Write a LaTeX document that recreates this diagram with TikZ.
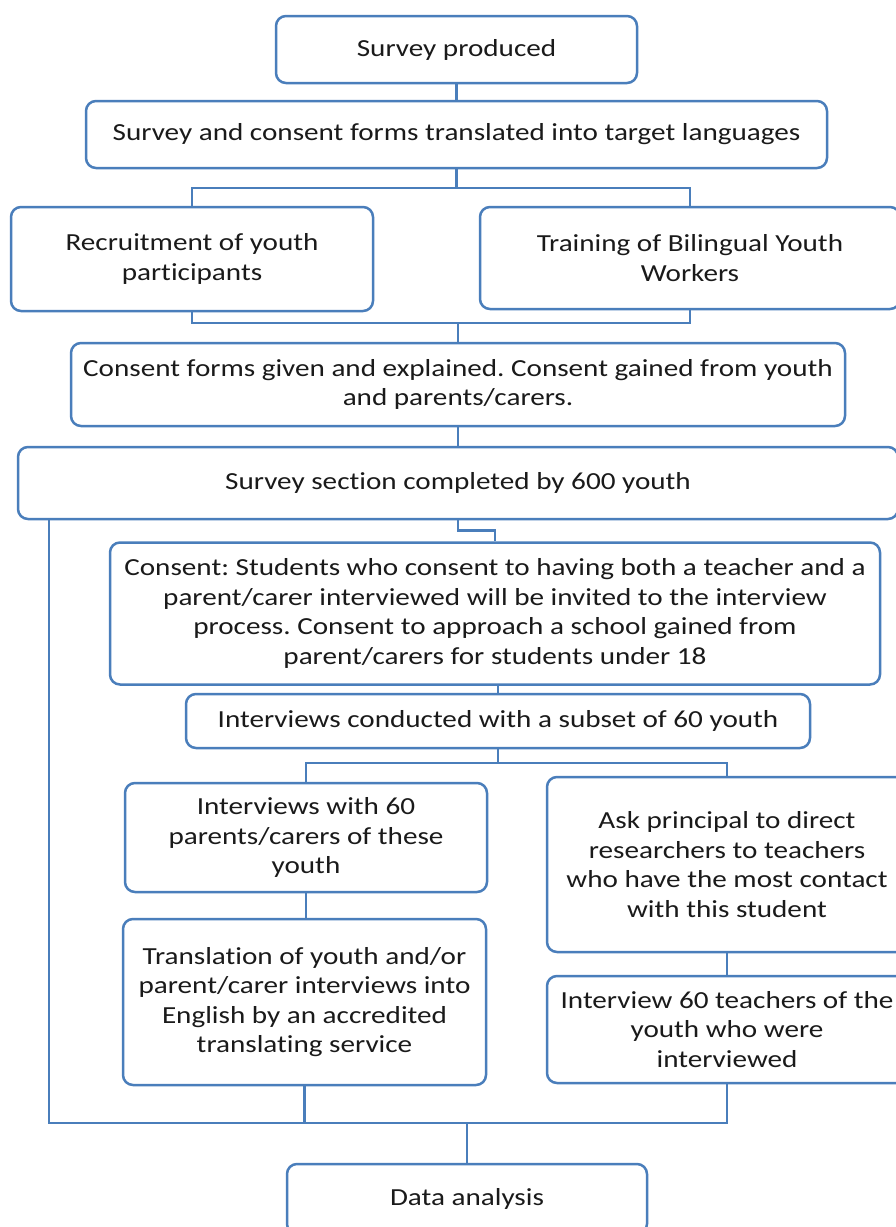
\documentclass[tikz,border=0pt]{standalone}
\usepackage{fontspec}
\setmainfont{Carlito}[FakeStretch=1.19, Ligatures=NoCommon]
\definecolor{boxblue}{HTML}{4A7EBB}
\definecolor{txt}{HTML}{1A1A1A}
\frenchspacing
\begin{document}
\begin{tikzpicture}[x=1pt,y=1pt,
  fbox/.style={draw=boxblue, line width=2.5pt, rounded corners=10pt, align=center,
    inner sep=0pt, text=txt, font=\fontsize{24.5}{29.5}\selectfont},
  conn/.style={draw=boxblue, line width=2.5pt}]
\useasboundingbox (0,0) rectangle (896,-1227);
\clip (0,0) rectangle (896,-1227);
\fill[white] (0,0) rectangle (896,-1227);
% boxes: center, width, height
\node[fbox, minimum width=361, minimum height=67] (produced) at (456.5,-49.5) {Survey produced};
\node[fbox, minimum width=741, minimum height=67] (translated) at (456.5,-134.5) {Survey and consent forms translated into target languages};
\node[fbox, minimum width=362, minimum height=104] (recruit) at (192,-259) {Recruitment of youth\\participants};
\node[fbox, minimum width=420, minimum height=102] (training) at (690,-258) {Training of Bilingual Youth\\Workers};
\node[fbox, minimum width=774, minimum height=83] (consentforms) at (458,-384.5) {Consent forms given and explained. Consent gained from youth\\and parents/carers.};
\node[fbox, minimum width=880, minimum height=72] (survey) at (458,-483) {Survey section completed by 600 youth};
\node[fbox, minimum width=770, minimum height=142] (consent) at (495,-613.5) {Consent: Students who consent to having both a teacher and a\\parent/carer interviewed will be invited to the interview\\process. Consent to approach a school gained from\\parent/carers for students under 18};
\node[fbox, minimum width=624, minimum height=54] (conducted) at (498,-721) {Interviews conducted with a subset of 60 youth};
\node[fbox, minimum width=362, minimum height=109] (parents) at (306,-837.5) {Interviews with 60\\parents/carers of these\\youth};
\node[fbox, minimum width=360, minimum height=175] (principal) at (727,-864.5) {Ask principal to direct\\researchers to teachers\\who have the most contact\\with this student};
\node[fbox, minimum width=363, minimum height=166] (translation) at (304.5,-1002) {Translation of youth and/or\\parent/carer interviews into\\English by an accredited\\translating service};
\node[fbox, minimum width=360, minimum height=107] (teachers) at (727,-1029.5) {Interview 60 teachers of the\\youth who were\\interviewed};
\node[fbox, minimum width=360, minimum height=70] (analysis) at (467,-1199) {Data analysis};
% connectors
\draw[conn] (produced.south) -- (translated.north);
\coordinate (fork1) at (456.5,-188);
\draw[conn] (translated.south) -- (fork1);
\draw[conn] (recruit.north) |- (fork1) -| (training.north);
\coordinate (join1) at (458,-323);
\draw[conn] (recruit.south) |- (join1) -| (training.south);
\draw[conn] (join1) -- (consentforms.north);
\draw[conn] (consentforms.south) -- (survey.north);
\draw[conn] (survey.south) -- ++(0,-10) -| (consent.north);
\draw[conn] (conducted.north |- consent.south) -- (conducted.north);
\coordinate (fork2) at (498,-763);
\draw[conn] (conducted.south) -- (fork2);
\draw[conn] (parents.north) |- (fork2) -| (principal.north);
\draw[conn] (parents.south) -- (parents.south |- translation.north);
\draw[conn] (principal.south) -- (teachers.north);
\coordinate (join2) at (467,-1123);
\draw[conn] ([xshift=32pt]survey.south west) |- (join2);
\draw[conn] (translation.south) -- (translation.south |- join2);
\draw[conn] (teachers.south) |- (join2);
\draw[conn] (join2) -- (analysis.north);
\end{tikzpicture}
\end{document}
